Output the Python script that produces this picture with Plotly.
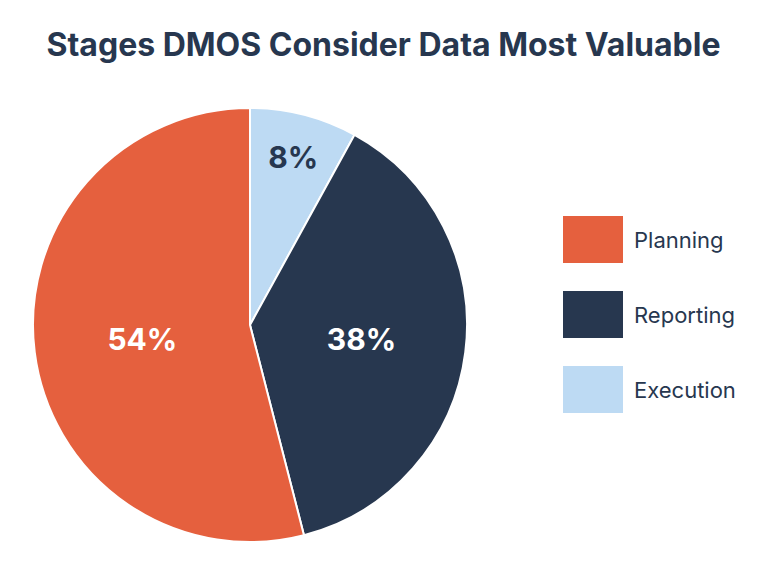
import plotly.graph_objects as go

# data
labels = ["Planning", "Reporting", "Execution"]
values = [54, 38, 8]
colors = ["#E5603E", "#27374F", "#BDDAF3"]
text_colors = ["white", "white", "#27374F"]

# page has an 8px body margin, so map reference pixels onto the figure
OFF = 8
W, H = 768 - OFF, 579 - OFF
navy = "#27374F"


def px(x):
    return (x - OFF) / W


def py(y):
    return 1 - (y - OFF) / H


fig = go.Figure(go.Pie(
    labels=labels[::-1], values=values[::-1], sort=False,
    direction="clockwise", rotation=0,
    marker=dict(colors=colors[::-1], line=dict(color="white", width=2)),
    textinfo="percent", texttemplate="%{percent:.0%}",
    textposition="inside", insidetextorientation="horizontal",
    textfont=dict(family="Inter", size=30, color=text_colors[::-1], weight="bold"),
    domain=dict(x=[px(33), px(467)], y=[py(542), py(108)]),
    showlegend=False, hoverinfo="label+percent",
))

# hand-made legend with large swatches
shapes, annotations = [], []
for i, (lab, col) in enumerate(zip(labels, colors)):
    top = 216 + i * 75
    shapes.append(dict(type="rect", xref="paper", yref="paper",
                       x0=px(563), x1=px(623), y0=py(top + 47), y1=py(top),
                       fillcolor=col, line=dict(width=0)))
    annotations.append(dict(text=lab, xref="paper", yref="paper",
                            x=px(632), y=py(top + 24),
                            xanchor="left", yanchor="middle", showarrow=False,
                            font=dict(family="Inter", size=22, color=navy)))

fig.update_layout(
    width=W, height=H,
    margin=dict(l=0, r=0, t=0, b=0),
    paper_bgcolor="white", plot_bgcolor="white",
    title=dict(text="Stages DMOS Consider Data Most Valuable",
               x=px(383.5), xanchor="center", y=py(45), yanchor="middle",
               font=dict(family="Inter", size=32, color=navy, weight="bold")),
    shapes=shapes, annotations=annotations,
)

fig.write_html("out.html")
